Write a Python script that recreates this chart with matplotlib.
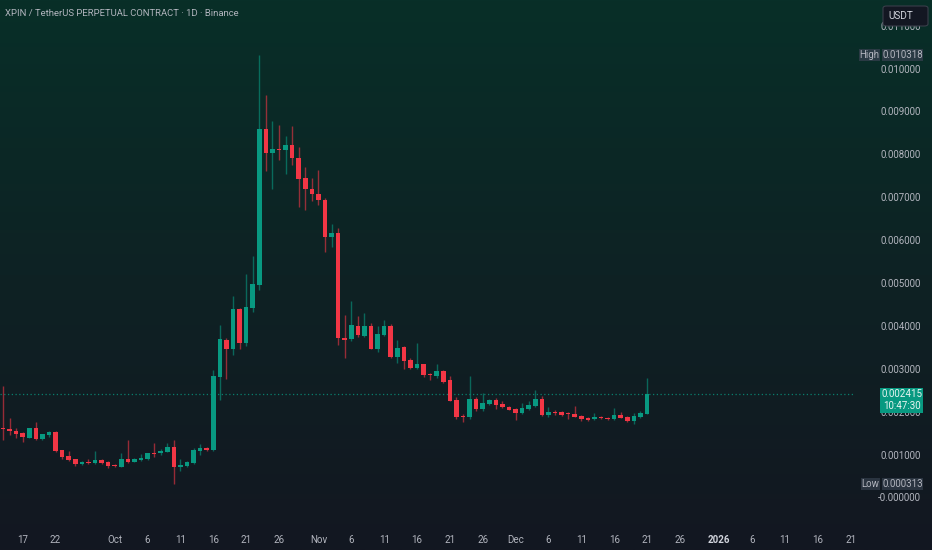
import numpy as np
import pandas as pd
import matplotlib
matplotlib.use("Agg")
import matplotlib.pyplot as plt
from matplotlib import font_manager
from matplotlib.patches import Rectangle, FancyBboxPatch

# ---------------- data ----------------
start_date = "2025-09-14"
opens = [0.00160, 0.00157, 0.001557, 0.00150, 0.00139, 0.00162, 0.001357, 0.00146, 0.00153, 0.00110,
         0.00097, 0.00089, 0.00077, 0.00083, 0.00081, 0.00088, 0.00083, 0.00076, 0.00072, 0.00089,
         0.00083, 0.00088, 0.00089, 0.00104, 0.00103, 0.00107, 0.00118, 0.00070, 0.00073, 0.00081,
         0.00108, 0.00116, 0.00111, 0.00282, 0.00367, 0.00346, 0.00440, 0.00361, 0.00441, 0.00495,
         0.00859, 0.00804, 0.00812, 0.00810, 0.00822, 0.00792, 0.00744, 0.00719, 0.00708, 0.00694,
         0.00608, 0.00617, 0.00372, 0.00369, 0.00400, 0.00377, 0.00400, 0.00346, 0.00379, 0.00400,
         0.00328, 0.00350, 0.00320, 0.00301, 0.00311, 0.00287, 0.00284, 0.00296, 0.00274, 0.00227,
         0.00190, 0.00188, 0.00230, 0.00206, 0.00219, 0.00227, 0.00218, 0.00212, 0.00206, 0.00196,
         0.00206, 0.00214, 0.00230, 0.00193, 0.00200, 0.00200, 0.00198, 0.00195, 0.00190, 0.00186,
         0.00182, 0.00188, 0.00185, 0.00182, 0.00192, 0.00188, 0.00179, 0.00188, 0.00195]
closes = [0.00159, 0.00156, 0.001487, 0.00140, 0.00161, 0.001357, 0.00148, 0.00153, 0.00108, 0.00094,
          0.00087, 0.00077, 0.00083, 0.00081, 0.00087, 0.00081, 0.00073, 0.00074, 0.00089, 0.00083,
          0.00089, 0.00091, 0.00103, 0.00102, 0.00109, 0.00118, 0.00070, 0.00076, 0.00083, 0.00111,
          0.00115, 0.00111, 0.00283, 0.00369, 0.00346, 0.00439, 0.00361, 0.00443, 0.00498, 0.00859,
          0.00804, 0.00813, 0.00811, 0.00822, 0.00791, 0.00742, 0.00718, 0.00707, 0.00693, 0.00608,
          0.00617, 0.00371, 0.00367, 0.00402, 0.00379, 0.00400, 0.00346, 0.00381, 0.00400, 0.00328,
          0.00349, 0.00319, 0.00301, 0.00311, 0.00286, 0.00285, 0.00296, 0.00270, 0.00225, 0.00188,
          0.00188, 0.00230, 0.00206, 0.00220, 0.00227, 0.00216, 0.00210, 0.00204, 0.00198, 0.00208,
          0.00216, 0.00230, 0.00192, 0.00199, 0.00197, 0.00193, 0.00195, 0.00188, 0.00184, 0.00181,
          0.00188, 0.00185, 0.00182, 0.00192, 0.00186, 0.00178, 0.00190, 0.00197, 0.002415]
highs = [0.00260, 0.00185, 0.00162, 0.00153, 0.00162, 0.00177, 0.00148, 0.00156, 0.00154, 0.00111,
         0.00108, 0.00090, 0.00084, 0.00089, 0.00108, 0.00090, 0.00084, 0.00077, 0.00103, 0.00134,
         0.00091, 0.00101, 0.00104, 0.00126, 0.00112, 0.00126, 0.00134, 0.00090, 0.00085, 0.00116,
         0.00125, 0.00118, 0.00297, 0.00402, 0.00371, 0.00470, 0.00442, 0.00521, 0.00563, 0.01032,
         0.00938, 0.00878, 0.00868, 0.00843, 0.00866, 0.00817, 0.00770, 0.00745, 0.00763, 0.00697,
         0.00638, 0.00628, 0.00425, 0.00458, 0.00423, 0.00431, 0.00406, 0.00400, 0.00414, 0.00404,
         0.00366, 0.00353, 0.00326, 0.00360, 0.00312, 0.00291, 0.00311, 0.00298, 0.00283, 0.00234,
         0.00195, 0.00284, 0.00234, 0.00243, 0.00230, 0.00231, 0.00224, 0.00214, 0.00208, 0.00220,
         0.00224, 0.00251, 0.00237, 0.00210, 0.00203, 0.00201, 0.00200, 0.00213, 0.00192, 0.00188,
         0.00198, 0.00190, 0.00188, 0.00209, 0.00199, 0.00189, 0.00196, 0.00201, 0.00278]
lows = [0.00134, 0.00146, 0.00139, 0.00130, 0.00138, 0.00135, 0.00134, 0.00142, 0.00106, 0.00089,
        0.00086, 0.00074, 0.00075, 0.00079, 0.00077, 0.00079, 0.00069, 0.00072, 0.00070, 0.00080,
        0.00082, 0.00084, 0.00087, 0.00095, 0.00100, 0.00105, 0.000313, 0.00062, 0.00071, 0.00079,
        0.00098, 0.00108, 0.00109, 0.00227, 0.00276, 0.00332, 0.00346, 0.00353, 0.00433, 0.00484,
        0.00760, 0.00719, 0.00787, 0.00754, 0.00775, 0.00678, 0.00669, 0.00692, 0.00682, 0.00573,
        0.00585, 0.00355, 0.00324, 0.00365, 0.00373, 0.00375, 0.00345, 0.00340, 0.00376, 0.00326,
        0.00313, 0.00300, 0.00300, 0.00300, 0.00282, 0.00274, 0.00278, 0.00268, 0.00224, 0.00182,
        0.00175, 0.00182, 0.00202, 0.00202, 0.00216, 0.00206, 0.00208, 0.00203, 0.00181, 0.00195,
        0.00204, 0.00212, 0.00191, 0.00188, 0.00192, 0.00191, 0.00184, 0.00187, 0.00179, 0.00178,
        0.00181, 0.00183, 0.00181, 0.00181, 0.00185, 0.00177, 0.00171, 0.00186, 0.00194]

tick_dates = ["2025-09-17", "2025-09-22", "2025-10-01", "2025-10-06", "2025-10-11", "2025-10-16",
              "2025-10-21", "2025-10-26", "2025-11-01", "2025-11-06", "2025-11-11", "2025-11-16",
              "2025-11-21", "2025-11-26", "2025-12-01", "2025-12-06", "2025-12-11", "2025-12-16",
              "2025-12-21", "2025-12-26", "2026-01-01", "2026-01-06", "2026-01-11", "2026-01-16",
              "2026-01-21"]
tick_labels = ["17", "22", "Oct", "6", "11", "16", "21", "26", "Nov", "6", "11", "16", "21", "26",
               "Dec", "6", "11", "16", "21", "26", "2026", "6", "11", "16", "21"]
price_ticks = [0.000, 0.001, 0.002, 0.003, 0.004, 0.005, 0.006, 0.007, 0.008, 0.009, 0.010, 0.011]

title = "XPIN / TetherUS PERPETUAL CONTRACT · 1D · Binance"
high_value, low_value = 0.010318, 0.000313
last_price, countdown = 0.002415, "10:47:30"

# ---------------- style ----------------
GREEN = "#089981"
RED = "#F23645"
TXT = "#B2B5BE"
installed = {f.name for f in font_manager.fontManager.ttflist}
if "Liberation Sans Narrow" in installed:
    FONT = ["Liberation Sans Narrow", "DejaVu Sans"]
    FS = 7.0
    TFS = 7.6
else:
    FONT = ["Roboto", "DejaVu Sans"]
    FS = 6.4
    TFS = 6.8
plt.rcParams["font.family"] = FONT

W, H = 932, 550
fig = plt.figure(figsize=(W / 100, H / 100), dpi=100)

# background gradient
bg = fig.add_axes([0, 0, 1, 1])
top = np.array([8, 47, 40]) / 255
mid = np.array([14, 34, 36]) / 255
bot = np.array([19, 23, 33]) / 255
t = np.linspace(0, 1, 256)[:, None]
grad = np.where(t < 0.5, top + (mid - top) * (t / 0.5), mid + (bot - mid) * ((t - 0.5) / 0.5))
bg.imshow(grad[:, None, :].repeat(2, axis=1), aspect="auto", extent=[0, 1, 0, 1], origin="upper")
bg.set_axis_off()

plot_right, plot_bottom = 855, 527
ax = fig.add_axes([0, (H - plot_bottom) / H, plot_right / W, plot_bottom / H])
ax.patch.set_alpha(0)

dates = pd.date_range(start_date, periods=len(opens), freq="D")
base = pd.Timestamp(start_date)
xs = np.array([(d - base).days for d in dates], dtype=float)

bw = 0.70
for x, o, h, l, c in zip(xs, opens, highs, lows, closes):
    col = GREEN if c >= o else RED
    ax.vlines(x, l, h, color=col, linewidth=1.0, alpha=0.6, zorder=2)
    lo, hi = min(o, c), max(o, c)
    ax.add_patch(Rectangle((x - bw / 2, lo), bw, max(hi - lo, 0.000025),
                           facecolor=col, edgecolor="none", zorder=3))

spacing = 6.572
ax.set_xlim(-3.0 / spacing, (plot_right - 3.0) / spacing)
ax.set_ylim(-0.000688, 0.011597)

# price line
ax.axhline(last_price, color=GREEN, linestyle=(0, (1, 2)), linewidth=0.9, alpha=0.8, zorder=1)

for s in ax.spines.values():
    s.set_visible(False)
tick_x = [(pd.Timestamp(d) - base).days for d in tick_dates]
ax.set_xticks(tick_x)
ax.set_xticklabels(tick_labels)
ax.tick_params(axis="x", length=0, pad=6, labelsize=FS + 0.6, colors=TXT)
for lbl, txt in zip(ax.get_xticklabels(), tick_labels):
    if txt == "2026":
        lbl.set_fontweight("bold")
        lbl.set_color("#D1D4DC")

ax.yaxis.tick_right()
ax.set_yticks(price_ticks)
ax.set_yticklabels([("-" if v == 0 else "") + f"{v:.6f}" for v in price_ticks])
ax.tick_params(axis="y", length=0, pad=47.5, labelsize=FS + 0.6, colors=TXT)
for lbl in ax.get_yticklabels():
    lbl.set_ha("right")


def fig_y(price):
    ydisp = ax.transData.transform((0, price))[1]
    return fig.transFigure.inverted().transform((0, ydisp))[1]


def label_box(x0_px, x1_px, y, text, fc, tc, h_px=12):
    hh = h_px / H
    yf = fig_y(y)
    fig.patches.append(Rectangle((x0_px / W, yf - hh / 2), (x1_px - x0_px) / W, hh,
                                 transform=fig.transFigure, facecolor=fc, edgecolor="none",
                                 zorder=5))
    fig.text((x0_px + x1_px) / 2 / W, yf, text, ha="center", va="center", color=tc,
             fontsize=FS + 0.6, zorder=6)


label_box(859, 880, high_value, "High", "#2A3A44", TXT)
label_box(882, 923, high_value, f"{high_value:.6f}", "#2A3A44", TXT)
label_box(861, 880, low_value, "Low", "#2A3440", TXT)
label_box(882, 923, low_value, f"{low_value:.6f}", "#2A3440", TXT)

# current price label (two lines)
yf = fig_y(last_price)
fig.patches.append(Rectangle((880 / W, yf - 19 / H), 43 / W, 25 / H, transform=fig.transFigure,
                             facecolor=GREEN, edgecolor="none", zorder=5))
fig.text(901.5 / W, yf, f"{last_price:.6f}", ha="center", va="center", color="#E8F5F2",
         fontsize=FS + 0.6, zorder=6)
fig.text(901.5 / W, yf - 12 / H, countdown, ha="center", va="center", color="#E8F5F2",
         fontsize=FS + 0.6, zorder=6)

# USDT box
fig.patches.append(FancyBboxPatch((883 / W, (H - 26) / H), 45 / W, 20 / H,
                                  boxstyle="round,pad=0,rounding_size=0.004",
                                  transform=fig.transFigure, facecolor="#131722",
                                  edgecolor="#3A3E4A", linewidth=0.8, zorder=7))
fig.text(888 / W, (H - 16) / H, "USDT", ha="left", va="center", color="#D1D4DC",
         fontsize=FS + 0.8, zorder=8)

# title
fig.text(5 / W, (H - 13) / H, title, ha="left", va="center", color="#B2B5BE", fontsize=TFS)

fig.savefig("out.png", dpi=100)
